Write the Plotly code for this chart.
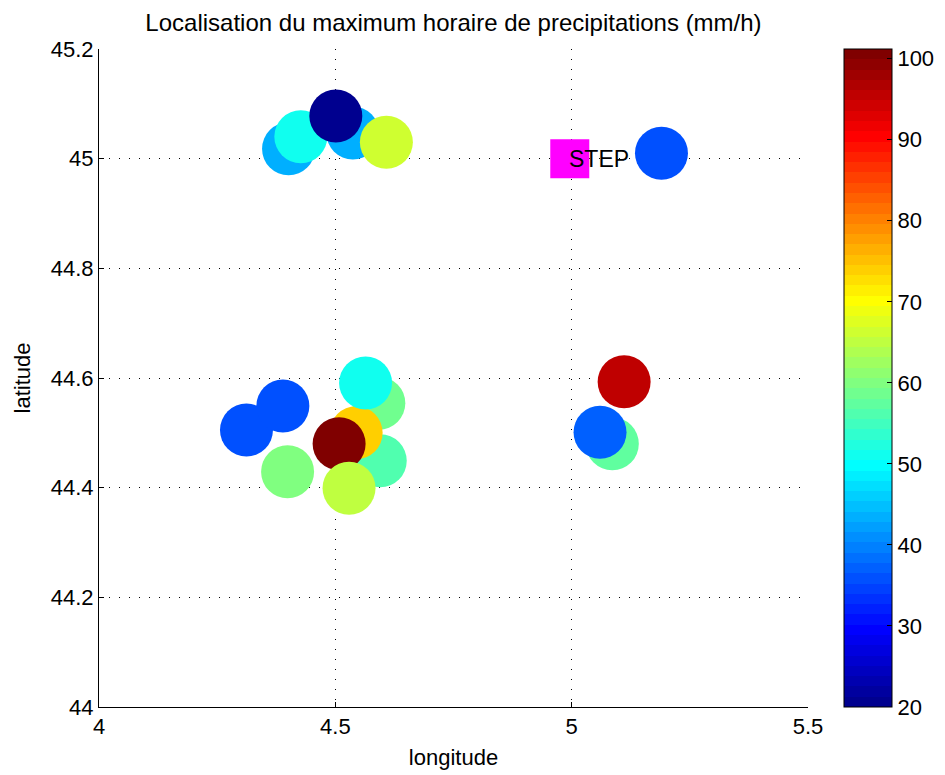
import plotly.graph_objects as go
import numpy as np

# Station positions and hourly precipitation maxima (mm/h)
lon = [4.401, 4.427, 4.537, 4.501, 4.608, 5.190,
       4.312, 4.389, 4.399, 4.592, 4.595, 4.544, 4.564, 4.508, 4.529,
       5.086, 5.060, 5.111]
lat = [45.018, 45.040, 45.047, 45.078, 45.030, 45.010,
       44.505, 44.549, 44.429, 44.554, 44.449, 44.500, 44.591, 44.480, 44.399,
       44.480, 44.501, 44.593]
pmax = [43.6, 51.2, 43.6, 20.0, 66.8, 35.3,
        35.3, 35.3, 59.9, 58.7, 56.0, 74.1, 50.5, 101.2, 65.4,
        57.3, 37.0, 95.0]

step_lon = [4.996]
step_lat = [45.0]
step_label = ["STEP"]

xtick_vals = [4, 4.5, 5, 5.5]
xtick_text = ["4", "4.5", "5", "5.5"]
ytick_vals = [44, 44.2, 44.4, 44.6, 44.8, 45, 45.2]
ytick_text = ["44", "44.2", "44.4", "44.6", "44.8", "45", "45.2"]
cbar_ticks = [20, 30, 40, 50, 60, 70, 80, 90, 100]


def jet(m=64):
    """Discrete jet colormap with m levels."""
    n = int(np.ceil(m / 4))
    u = np.concatenate([np.arange(1, n + 1) / n, np.ones(n - 1), np.arange(n, 0, -1) / n])
    g = int(np.ceil(n / 2)) - (1 if m % 4 == 1 else 0) + np.arange(1, len(u) + 1)
    r = g + n
    b = g - n
    J = np.zeros((m, 3))
    for idx, val in zip(r, u):
        if 1 <= idx <= m:
            J[idx - 1, 0] = val
    for idx, val in zip(g, u):
        if 1 <= idx <= m:
            J[idx - 1, 1] = val
    for idx, val in zip(b, u):
        if 1 <= idx <= m:
            J[idx - 1, 2] = val
    return J


J = jet(64)
colorscale = []
for k, c in enumerate(J):
    col = "rgb(%d,%d,%d)" % tuple(int(round(v * 255)) for v in c)
    colorscale.append([k / 64, col])
    colorscale.append([(k + 1) / 64, col])

FONT = "Liberation Sans, Arial, Helvetica, sans-serif"
FS = 22

L, R, T, B = 99, 137, 49, 68
PW = 945 - L - R

fig = go.Figure()

fig.add_trace(go.Scatter(
    x=lon, y=lat, mode="markers",
    marker=dict(
        size=53, color=pmax, colorscale=colorscale,
        cmin=20, cmax=101.2, line=dict(width=0), opacity=1,
        colorbar=dict(
            x=(844 - L) / PW, xanchor="left", xref="paper",
            y=0.5, yanchor="middle", len=1, lenmode="fraction",
            thickness=48, thicknessmode="pixels",
            outlinewidth=1, outlinecolor="black",
            ticks="inside", ticklen=5, tickcolor="black",
            tickvals=cbar_ticks, ticktext=[str(v) for v in cbar_ticks],
            tickfont=dict(family=FONT, size=FS, color="black"),
            ypad=0, xpad=0,
        ),
    ),
    showlegend=False, hoverinfo="x+y",
))

fig.add_trace(go.Scatter(
    x=step_lon, y=step_lat, mode="markers",
    marker=dict(symbol="square", size=39, color="#ff00ff", line=dict(width=0)),
    showlegend=False,
))

fig.add_annotation(
    x=step_lon[0], y=step_lat[0], text=step_label[0], showarrow=False,
    xanchor="left", yanchor="middle", xshift=-3,
    font=dict(family=FONT, size=23, color="black"),
)

axis_common = dict(
    showline=True, linecolor="black", linewidth=1, mirror=False,
    ticks="inside", ticklen=5, tickcolor="black", tickwidth=1,
    showgrid=True, gridcolor="black", gridwidth=1, griddash="1px,9px",
    zeroline=False,
    tickfont=dict(family=FONT, size=FS, color="black"),
    title_font=dict(family=FONT, size=FS, color="black"),
)

fig.update_xaxes(
    range=[4, 5.5], tickvals=xtick_vals, ticktext=xtick_text,
    title_text="longitude", title_standoff=11, **axis_common,
)
fig.update_yaxes(
    range=[44, 45.2], tickvals=ytick_vals, ticktext=ytick_text,
    title_text="latitude", title_standoff=14, **axis_common,
)

fig.update_layout(
    width=945, height=775,
    margin=dict(l=L, r=R, t=T, b=B, autoexpand=False),
    paper_bgcolor="white", plot_bgcolor="white",
    title=dict(
        text="Localisation du maximum horaire de precipitations (mm/h)",
        x=0.5, xref="paper", xanchor="center",
        y=1 - 23 / 775, yref="container", yanchor="middle",
        font=dict(family=FONT, size=24, color="black"),
    ),
    font=dict(family=FONT, size=FS, color="black"),
)

fig.write_html("out.html")
